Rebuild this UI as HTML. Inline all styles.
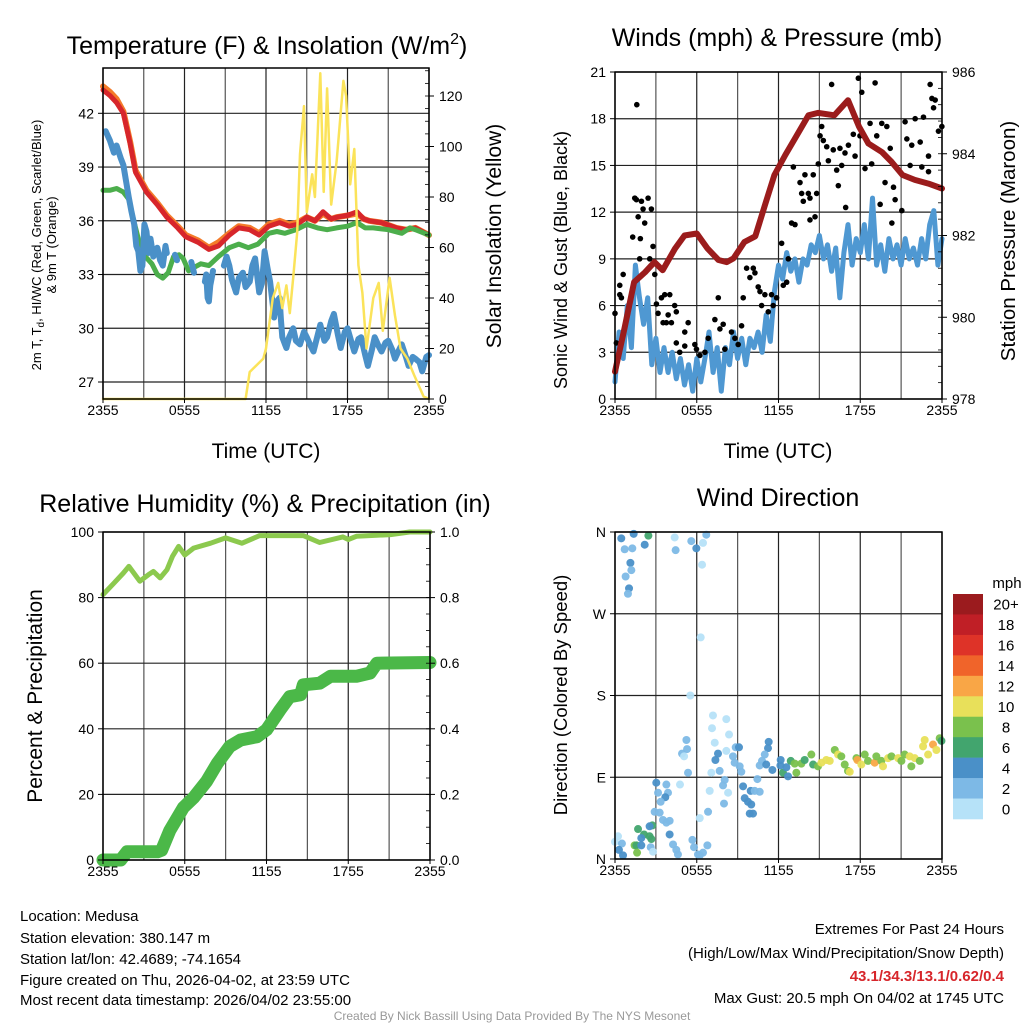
<!DOCTYPE html>
<html><head><meta charset="utf-8">
<style>
html,body{margin:0;padding:0;background:#fff;}
svg{display:block;font-family:"Liberation Sans",Arial,sans-serif;}
</style></head>
<body>
<svg id="s" width="1024" height="1024" viewBox="0 0 1024 1024" xmlns="http://www.w3.org/2000/svg">
<rect width="1024" height="1024" fill="#fff"/>
<g id="grid"></g>
<g id="marks"></g>
<g id="axes"></g>
<!-- titles -->
<text x="267" y="54" font-size="25" text-anchor="middle">Temperature (F) &amp; Insolation (W/m<tspan font-size="16" dy="-10">2</tspan><tspan dy="10">)</tspan></text>
<text x="777" y="46" font-size="25" text-anchor="middle">Winds (mph) &amp; Pressure (mb)</text>
<text x="265" y="512" font-size="25" text-anchor="middle">Relative Humidity (%) &amp; Precipitation (in)</text>
<text x="778" y="506" font-size="25" text-anchor="middle">Wind Direction</text>
<!-- x axis titles -->
<text x="266" y="458" font-size="21" text-anchor="middle">Time (UTC)</text>
<text x="778" y="458" font-size="21" text-anchor="middle">Time (UTC)</text>
<!-- y axis titles -->
<text transform="translate(41,245) rotate(-90)" font-size="13" text-anchor="middle">2m T, T<tspan font-size="10" dy="3">d</tspan><tspan dy="-3">, HI/WC (Red, Green, Scarlet/Blue)</tspan></text>
<text transform="translate(56,245) rotate(-90)" font-size="13" text-anchor="middle">&amp; 9m T (Orange)</text>
<text transform="translate(501,236) rotate(-90)" font-size="21" text-anchor="middle">Solar Insolation (Yellow)</text>
<text transform="translate(567,260) rotate(-90)" font-size="18" text-anchor="middle">Sonic Wind &amp; Gust (Blue, Black)</text>
<text transform="translate(1015,241) rotate(-90)" font-size="20.5" text-anchor="middle">Station Pressure (Maroon)</text>
<text transform="translate(42,696) rotate(-90)" font-size="21" text-anchor="middle">Percent &amp; Precipitation</text>
<text transform="translate(567,695) rotate(-90)" font-size="18.5" text-anchor="middle">Direction (Colored By Speed)</text>
<!-- colorbar -->
<g id="cbar"></g>
<text x="1007" y="588" font-size="15" text-anchor="middle">mph</text>
<!-- footer -->
<g font-size="15">
<text x="20" y="921">Location: Medusa</text>
<text x="20" y="943">Station elevation: 380.147 m</text>
<text x="20" y="964">Station lat/lon: 42.4689; -74.1654</text>
<text x="20" y="985">Figure created on Thu, 2026-04-02, at 23:59 UTC</text>
<text x="20" y="1005">Most recent data timestamp: 2026/04/02 23:55:00</text>
</g>
<g font-size="15" text-anchor="end">
<text x="1004" y="934">Extremes For Past 24 Hours</text>
<text x="1004" y="958">(High/Low/Max Wind/Precipitation/Snow Depth)</text>
<text x="1004" y="981" fill="#d7262b" font-weight="bold">43.1/34.3/13.1/0.62/0.4</text>
<text x="1004" y="1003">Max Gust: 20.5 mph On 04/02 at 1745 UTC</text>
</g>
<text x="512" y="1020" font-size="12" fill="#999" text-anchor="middle">Created By Nick Bassill Using Data Provided By The NYS Mesonet</text>
</svg>
<script>
// ---------- data ----------
const xTickHours = [0, 6, 12, 18, 24];
const xTickLabels = ["2355", "0555", "1155", "1755", "2355"];

const tempTicks = [27, 30, 33, 36, 39, 42];
const solarTicks = [0, 20, 40, 60, 80, 100, 120];
const windTicks = [0, 3, 6, 9, 12, 15, 18, 21];
const pressTicks = [978, 980, 982, 984, 986];
const pctTicks = [0, 20, 40, 60, 80, 100];
const precipTicks = ["0.0", "0.2", "0.4", "0.6", "0.8", "1.0"];
const dirTicks = [0, 90, 180, 270, 360];
const dirLabels = ["N", "E", "S", "W", "N"];
const speedBins = ["0", "2", "4", "6", "8", "10", "12", "14", "16", "18", "20+"];
const speedColors = ["#b6e2f8", "#7db9e6", "#4a90c8", "#42a56e", "#7ac14d", "#e8e05a", "#f9a646", "#f0642a", "#de3328", "#c01f26", "#9b1b1e"];

const tempH = [0, 0.5, 1, 1.5, 2, 2.4, 3.2, 4, 4.7, 5.5, 6.1, 7, 7.8, 8.5, 9.3, 10, 10.8, 11.5, 12.2, 13, 13.7, 14.3, 15, 15.6, 16.2, 16.8, 17.2, 18, 18.7, 19.2, 19.6, 20.5, 21.6, 22.3, 23, 24];
const tempV = [43.3, 43.0, 42.6, 42.0, 40.3, 38.7, 37.6, 36.9, 36.2, 35.6, 35.1, 34.8, 34.4, 34.6, 35.2, 35.6, 35.5, 35.2, 35.7, 35.9, 35.7, 35.8, 36.2, 36.0, 36.5, 36.1, 36.2, 36.3, 36.5, 36.1, 36.0, 35.9, 35.6, 35.5, 35.6, 35.2];
const orangeV = [43.5, 43.2, 42.8, 42.1, 40.4, 38.8, 37.7, 37.0, 36.3, 35.7, 35.2, 34.9, 34.5, 34.8, 35.3, 35.7, 35.6, 35.3, 35.8, 36.0, 35.8, 35.9, 36.2, 36.0, 36.4, 36.1, 36.2, 36.3, 36.4, 36.1, 36.0, 35.9, 35.6, 35.5, 35.6, 35.2];
const dewH = [0, 0.5, 1, 1.5, 1.9, 2.2, 2.6, 3, 3.6, 4.0, 4.4, 4.8, 5.2, 5.6, 5.9, 6.3, 6.7, 7.2, 7.8, 8.5, 9.3, 10, 10.7, 11.4, 12.2, 12.8, 13.4, 14.2, 15, 15.8, 16.5, 17.2, 18, 18.7, 19.3, 19.9, 21, 22, 22.6, 23, 24];
const dewV = [37.7, 37.7, 37.8, 37.6, 37.2, 36.2, 35.0, 34.1, 33.6, 33.0, 32.8, 33.1, 34.0, 34.1, 33.9, 33.2, 33.4, 33.6, 33.5, 34.0, 34.5, 34.7, 34.5, 34.7, 35.3, 35.4, 35.3, 35.5, 35.8, 35.6, 35.5, 35.6, 35.7, 35.9, 35.6, 35.6, 35.5, 35.3, 35.6, 35.5, 35.2];
const wcH = [0.2, 0.5, 0.8, 1, 1.3, 1.5, 1.7, 1.9, 2.1, 2.3, 2.45, 2.6, 2.75, 2.9, 3.05, 3.2, 3.35, 3.5, 3.7, 4, 4.2, 4.4, 4.6, 4.7, 5.0, 5.3, 5.45, 5.6, 6.3, 6.5, 6.7, 6.9, 7.4, 7.5, 7.6, 7.7, 7.8, 7.9, 8, 8.1, 8.5, 8.9, 9.1, 9.3, 9.5, 9.8, 10, 10.3, 10.5, 10.8, 11, 11.2, 11.5, 11.7, 11.9, 12.1, 12.3, 12.5, 12.6, 12.8, 13, 13.1, 13.2, 13.4, 13.5, 13.7, 14, 14.2, 14.5, 14.8, 15, 15.3, 15.5, 15.8, 16, 16.3, 16.5, 16.8, 17, 17.3, 17.5, 17.8, 18, 18.3, 18.5, 18.8, 19, 19.3, 19.5, 19.8, 20, 20.3, 20.5, 20.8, 21, 21.3, 21.5, 21.8, 22, 22.3, 22.5, 22.8, 23, 23.3, 23.5, 23.8, 24];
const wcV = [41.0, 40.5, 39.8, 40.2, 39.5, 39.1, 38.2, 37.3, 36.5, 35.8, 34.6, 34.3, 33.2, 33.5, 35.8, 35.4, 34.2, 35.0, 34.0, 34.5, 33.8, 33.5, 34.6, 34.2, null, 34.1, 33.8, null, null, 33.7, 33.1, null, null, 32.6, 33.0, 31.7, 31.5, 32.4, 32.8, 33.2, null, 33.5, 34.0, 33.5, 32.7, 32.0, 32.8, 33.1, 32.3, 32.6, 33.5, 33.9, 32.0, 32.5, 34.3, 33.4, 32.6, 31.3, 30.6, 31.5, 31.7, 30.5, 29.5, 29.1, 28.9, 29.5, 30.0, 29.3, 29.1, 29.8, 29.5, 29.0, 28.7, 29.6, 30.2, 29.3, 29.5, 30.4, 30.8, 29.6, 28.9, 29.8, 30.0, 29.2, 28.7, 29.4, 29.5, 28.5, 27.9, 28.8, 29.5, 29.0, 28.7, 29.2, 29.3, 28.8, 28.3, 28.8, 29.1, 28.4, 27.9, 28.4, 28.3, 28.1, 27.6, 28.4, 28.5];
const solarH = [0, 10.5, 10.8, 11.8, 12.0, 12.5, 12.9, 13.2, 13.5, 13.75, 14.0, 14.3, 14.5, 14.8, 15.0, 15.4, 15.6, 16.0, 16.25, 16.5, 16.8, 17.2, 17.7, 17.9, 18.2, 18.5, 18.8, 19.1, 19.4, 19.9, 20.3, 20.6, 21.1, 21.5, 21.9, 22.4, 22.9, 23.6, 24];
const solarV = [0, 0, 10.7, 16, 20, 40, 46, 36, 45, 34, 48, 66, 97, 116, 74, 89, 80, 129, 82, 123, 77, 94, 126, 120, 85, 99, 53, 42, 20, 40, 46, 27, 48, 33, 20, 16, 9.5, 1, 0];

const pressH = [0, 0.7, 1.4, 2.2, 2.9, 3.5, 4.4, 5.1, 6.0, 6.8, 7.6, 8.2, 8.7, 9.5, 10.3, 11.0, 11.7, 12.5, 13.2, 14.2, 14.9, 16.1, 17.1, 17.9, 18.6, 19.6, 20.3, 21.1, 22.0, 23.0, 24];
const pressV = [978.67, 979.73, 980.86, 981.1, 981.35, 981.15, 981.68, 982.0, 982.05, 981.68, 981.4, 981.35, 981.44, 981.84, 981.98, 982.74, 983.48, 983.97, 984.37, 984.94, 985.0, 984.94, 985.31, 984.67, 984.25, 984.04, 983.8, 983.48, 983.36, 983.27, 983.15];
const windH = [0, 0.3, 0.6, 0.9, 1.2, 1.5, 1.8, 2.1, 2.4, 2.7, 3, 3.3, 3.6, 3.9, 4.2, 4.5, 4.8, 5.1, 5.4, 5.7, 6.0, 6.3, 6.6, 6.9, 7.2, 7.5, 7.8, 8.1, 8.4, 8.7, 9.0, 9.3, 9.6, 9.9, 10.2, 10.5, 10.8, 11.1, 11.4, 11.7, 12, 12.3, 12.6, 12.9, 13.2, 13.5, 13.8, 14.1, 14.4, 14.7, 15, 15.3, 15.6, 15.9, 16.2, 16.5, 16.8, 17.1, 17.4, 17.7, 18, 18.3, 18.6, 18.9, 19.2, 19.5, 19.8, 20.1, 20.4, 20.7, 21, 21.3, 21.6, 21.9, 22.2, 22.5, 22.8, 23.1, 23.4, 23.7, 24];
const windV = [1.1, 4.3, 2.6, 6.0, 3.3, 8.6, 6.5, 4.8, 6.5, 2.2, 3.9, 1.7, 3.3, 1.7, 3.0, 1.3, 2.6, 0.9, 2.2, 0.5, 2.6, 1.1, 2.6, 4.3, 1.7, 3.3, 0.5, 3.3, 2.2, 4.3, 2.6, 3.9, 2.2, 3.9, 3.3, 4.3, 3.0, 5.4, 3.7, 6.9, 8.6, 7.7, 9.4, 8.2, 9.0, 7.5, 9.0, 8.6, 9.9, 9.4, 10.5, 9.0, 9.9, 8.2, 9.7, 6.5, 9.4, 11.2, 8.6, 10.3, 9.4, 11.2, 9.0, 12.9, 8.6, 9.9, 8.2, 10.3, 9.0, 9.9, 8.6, 10.3, 9.0, 9.7, 8.6, 10.3, 9.0, 11.2, 12.1, 8.6, 10.3];
const gustH = [0, 0.1, 0.35, 0.6, 0.35, 0.47, 1.6, 1.3, 1.45, 1.57, 1.94, 2.06, 1.7, 2.18, 2.43, 2.67, 1.86, 1.81, 2.55, 2.79, 2.92, 3.04, 3.16, 3.41, 3.65, 4.02, 3.9, 4.38, 4.5, 3.53, 4.14, 3.77, 4.5, 5.12, 5.37, 5.12, 4.75, 5.86, 5.98, 6.23, 6.6, 6.84, 7.33, 7.58, 7.7, 7.94, 8.06, 8.55, 8.8, 9.04, 9.29, 9.41, 9.66, 9.9, 10.15, 10.27, 10.51, 10.64, 10.76, 11.0, 11.25, 11.49, 11.61, 11.86, 12.23, 12.35, 12.6, 12.72, 12.96, 13.21, 13.09, 13.58, 13.7, 13.82, 13.94, 14.19, 14.31, 14.55, 14.68, 14.31, 14.8, 14.92, 15.05, 15.17, 15.29, 15.54, 15.66, 15.9, 16.02, 16.27, 16.39, 16.51, 16.88, 16.93, 16.64, 17.13, 17.49, 17.62, 17.86, 18.11, 17.98, 18.35, 18.72, 18.84, 19.09, 19.21, 19.46, 19.58, 19.82, 19.95, 20.2, 20.32, 20.44, 20.56, 21.05, 21.29, 21.42, 21.66, 21.78, 22.03, 22.4, 22.52, 22.64, 23.01, 23.13, 23.38, 23.5, 23.74, 23.99, 23.01, 23.26];
const gustV = [5.5, 3.6, 7.3, 8.0, 6.7, 6.5, 18.9, 10.4, 12.9, 12.8, 12.7, 12.2, 11.7, 11.3, 12.9, 12.2, 10.3, 9.0, 9.0, 9.8, 8.0, 6.1, 5.5, 6.5, 6.7, 6.7, 5.4, 6.0, 5.6, 4.9, 4.9, 4.9, 3.6, 4.3, 4.9, 3.4, 3.0, 3.5, 3.2, 2.8, 3.0, 3.9, 5.1, 6.5, 4.5, 4.8, 3.2, 4.3, 3.9, 3.5, 4.7, 6.5, 8.4, 7.8, 8.4, 8.1, 7.2, 6.9, 6.0, 6.7, 5.6, 6.7, 6.0, 6.5, 10.0, 7.3, 7.5, 9.0, 11.3, 11.2, 14.9, 13.9, 13.2, 12.7, 14.4, 13.2, 12.9, 14.4, 11.7, 11.5, 13.2, 15.1, 16.9, 17.5, 16.6, 16.2, 15.3, 20.2, 16.0, 14.7, 13.7, 16.1, 15.8, 12.3, 15.0, 16.3, 17.0, 15.6, 20.6, 19.7, 16.9, 14.8, 17.7, 15.1, 20.3, 16.9, 12.5, 17.7, 13.9, 17.5, 16.1, 11.3, 13.6, 12.8, 12.1, 17.8, 16.7, 15.0, 16.3, 18.0, 16.5, 14.9, 18.1, 15.6, 20.2, 18.7, 19.2, 17.2, 17.5, 14.6, 19.3, 16.3, 16.5];

const rhH = [0, 0.8, 1.5, 1.9, 2.7, 3.35, 3.7, 4.2, 4.7, 5.1, 5.55, 6.0, 6.65, 7.9, 9.0, 10.2, 11.5, 14.7, 15.9, 17.6, 18.0, 18.6, 21.1, 22.5, 24];
const rhV = [80.9, 84.4, 87.5, 89.5, 85, 87, 88, 86, 88.5, 92.6, 95.6, 93, 95.1, 96.6, 98.2, 96.6, 98.9, 98.9, 96.8, 98.5, 97.7, 98.7, 99.2, 100, 100];
const precipH = [0, 1.3, 1.76, 4.0, 4.3, 4.9, 5.9, 6.65, 7.6, 8.4, 9.3, 10.1, 11.3, 12.0, 13.0, 13.7, 14.5, 14.7, 15.9, 16.7, 18.6, 19.6, 20.1, 24];
const precipV = [0, 0, 0.025, 0.025, 0.03, 0.09, 0.16, 0.19, 0.24, 0.295, 0.346, 0.366, 0.376, 0.397, 0.458, 0.498, 0.504, 0.534, 0.539, 0.56, 0.56, 0.57, 0.60, 0.602];

const dirH = [0.46, 1.37, 2.45, 2.18, 0.71, 1.27, 1.13, 1.2, 0.78, 1.03, 0.95, 4.38, 5.6, 4.45, 5.97, 6.46, 6.7, 6.39, 6.29, 5.53, 7.19, 8.17, 7.12, 8.37, 7.32, 5.24, 5.29, 4.92, 5.07, 5.36, 4.77, 7.56, 7.37, 8.17, 8.86, 9.1, 8.66, 8.78, 9.15, 9.27, 7.68, 7.07, 8.05, 7.93, 8.3, 6.95, 8.0, 6.83, 6.22, 9.4, 9.52, 9.76, 10.0, 9.89, 10.13, 9.96, 10.25, 10.45, 10.62, 11.28, 11.23, 10.99, 10.79, 10.62, 11.1, 11.55, 12.16, 12.14, 12.33, 12.7, 12.58, 12.9, 13.19, 13.31, 13.68, 13.92, 14.41, 14.54, 14.9, 15.15, 15.51, 15.76, 16.13, 16.37, 16.61, 16.86, 17.1, 17.23, 17.72, 17.79, 18.08, 18.33, 18.57, 19.06, 19.18, 19.55, 19.67, 20.04, 20.29, 20.78, 21.02, 21.26, 21.63, 21.75, 22.0, 22.37, 22.61, 22.73, 23.34, 23.59, 23.83, 23.96, 22.98, 3.03, 3.77, 3.16, 3.89, 3.69, 3.35, 2.91, 3.28, 3.52, 4.01, 3.77, 2.74, 2.54, 1.69, 2.13, 2.54, 1.93, 2.67, 4.01, 4.26, 4.5, 4.62, 5.68, 5.8, 6.09, 6.46, 6.78, 1.44, 1.57, 1.93, 1.62, 2.62, 2.79, 0, 0.22, 0.51, 0.29, 0.59, 6.22];
const dirV = [353, 358, 356, 346, 341, 342, 326, 318, 311, 298, 292, 354, 350, 340, 342, 348, 357, 324, 244, 180, 158, 154, 144, 137, 128, 131, 121, 116, 113, 95, 82, 116, 109, 119, 123, 123, 113, 106, 102, 96, 97, 95, 87, 81, 73, 75, 61, 52, 45, 80, 67, 63, 60, 50, 50, 75, 75, 88, 74, 129, 122, 115, 108, 103, 104, 98, 109, 103, 95, 91, 101, 108, 105, 95, 105, 109, 115, 104, 102, 106, 109, 108, 120, 115, 113, 104, 97, 96, 111, 109, 104, 115, 108, 106, 113, 108, 102, 111, 113, 111, 108, 115, 113, 102, 111, 108, 124, 131, 126, 120, 133, 130, 115, 84, 82, 73, 73, 68, 63, 52, 51, 43, 42, 40, 37, 36, 33, 27, 25, 23, 22, 27, 16, 10, 5, 21, 13, 5, 7, 15, 15, 15, 15, 7, 13, 8, 19, 25, 17, 10, 4, 4];
const dirSpeed = [5, 5, 7, 5, 3, 3, 5, 3, 3, 5, 3, 1, 3, 3, 5, 1, 3, 1, 1, 1, 1, 1, 1, 1, 1, 3, 3, 3, 1, 3, 1, 5, 5, 1, 3, 5, 3, 3, 3, 3, 3, 1, 3, 3, 1, 1, 3, 3, 1, 5, 5, 5, 5, 5, 5, 5, 3, 3, 3, 5, 5, 3, 3, 3, 5, 5, 5, 5, 7, 5, 5, 7, 9, 9, 9, 7, 9, 7, 9, 11, 11, 11, 9, 11, 9, 9, 9, 11, 9, 13, 11, 9, 9, 13, 9, 9, 11, 11, 9, 11, 9, 9, 11, 9, 11, 9, 11, 11, 13, 11, 9, 7, 11, 5, 3, 3, 3, 5, 3, 3, 3, 3, 3, 3, 7, 5, 7, 7, 7, 5, 7, 5, 3, 3, 3, 3, 3, 3, 3, 3, 9, 7, 5, 9, 3, 1, 1, 1, 3, 5, 5, 3];

// ---------- helpers ----------
const NS = "http://www.w3.org/2000/svg";
const gridG = document.getElementById("grid");
const marksG = document.getElementById("marks");
const axesG = document.getElementById("axes");
function mk(tag, parent, attrs) {
  const e = document.createElementNS(NS, tag);
  for (const k in attrs) e.setAttribute(k, attrs[k]);
  parent.appendChild(e);
  return e;
}
function linScale(d0, d1, r0, r1) { return v => r0 + (v - d0) * (r1 - r0) / (d1 - d0); }
function pathD(xs, ys, sx, sy) {
  let d = "", pen = false;
  for (let i = 0; i < xs.length; i++) {
    if (ys[i] === null) { pen = false; continue; }
    d += (pen ? "L" : "M") + sx(xs[i]).toFixed(1) + " " + sy(ys[i]).toFixed(1);
    pen = true;
  }
  return d;
}

const P = [
  { x0: 103, x1: 429, y0: 68, y1: 399 },
  { x0: 615, x1: 942, y0: 72, y1: 399 },
  { x0: 103, x1: 430, y0: 532, y1: 860 },
  { x0: 615, x1: 942, y0: 532, y1: 859 }
];
const sx = P.map(p => linScale(0, 24, p.x0, p.x1));
const yTemp = linScale(27, 42, 382, 113.3);
const ySolar = linScale(0, 120, 399, 96);
const yWind = linScale(0, 21, 399, 72);
const yPress = linScale(978, 986, 399, 72);
const yPct = linScale(0, 100, 860, 532);
const yPrecip = linScale(0, 1, 860, 532);
const yDir = linScale(0, 360, 859, 532);

// ---------- grids & axes ----------
P.forEach((p, i) => {
  for (let h = 0; h <= 24; h += 3) {
    const x = sx[i](h);
    const v = mk("line", gridG, { x1: x, x2: x, y1: p.y0, y2: p.y1, stroke: (h % 6 === 0) ? "#222" : "#555", "stroke-width": 1.2 });
    
    
  }
  const box = mk("rect", axesG, { x: p.x0, y: p.y0, width: p.x1 - p.x0, height: p.y1 - p.y0, fill: "none", stroke: "#000", "stroke-width": 1.5 });
  
  
  xTickHours.forEach((h, j) => {
    const x = sx[i](h);
    const t = mk("text", axesG, { x: x, y: p.y1 + 16, "font-size": 14, "text-anchor": "middle" });
    t.textContent = xTickLabels[j];
    
    
    const tk = mk("line", axesG, { x1: x, x2: x, y1: p.y1, y2: p.y1 + 4, stroke: "#000", "stroke-width": 1 });
    
    
  });
});
function hGrid(i, ticks, sy) {
  const p = P[i];
  ticks.forEach(v => {
    const y = sy(v);
    const l = mk("line", gridG, { x1: p.x0, x2: p.x1, y1: y, y2: y, stroke: "#222", "stroke-width": 1.2 });
    
    
  });
}
function leftTicks(i, ticks, sy, labels) {
  const p = P[i];
  ticks.forEach((v, j) => {
    const y = sy(v);
    const tk = mk("line", axesG, { x1: p.x0 - 5, x2: p.x0, y1: y, y2: y, stroke: "#000", "stroke-width": 1 });
    
    
    const t = mk("text", axesG, { x: p.x0 - 9, y: y + 5, "font-size": 14, "text-anchor": "end" });
    t.textContent = labels ? labels[j] : v;
    
    
  });
}
function rightTicks(i, ticks, sy, labels, minorStep, d0, d1) {
  const p = P[i];
  ticks.forEach((v, j) => {
    const y = sy(v);
    const tk = mk("line", axesG, { x1: p.x1, x2: p.x1 + 5, y1: y, y2: y, stroke: "#000", "stroke-width": 1 });
    
    
    const t = mk("text", axesG, { x: p.x1 + 10, y: y + 5, "font-size": 14, "text-anchor": "start" });
    t.textContent = labels ? labels[j] : v;
    
    
  });
  if (minorStep) {
    for (let v = d0; v <= d1 + 1e-9; v += minorStep) {
      const y = sy(v);
      if (y < p.y0 || y > p.y1) continue;
      const m = mk("line", axesG, { x1: p.x1 - 4, x2: p.x1, y1: y, y2: y, stroke: "#000", "stroke-width": 0.8 });
      
      
    }
  }
}
hGrid(0, tempTicks, yTemp);
leftTicks(0, tempTicks, yTemp);
rightTicks(0, solarTicks, ySolar, null, 5, 0, 130);
hGrid(1, windTicks, yWind);
leftTicks(1, windTicks, yWind);
rightTicks(1, pressTicks, yPress, null, 0.4, 978, 986);
hGrid(2, pctTicks, yPct);
leftTicks(2, pctTicks, yPct);
rightTicks(2, [0, 0.2, 0.4, 0.6, 0.8, 1.0], yPrecip, precipTicks, 0.05, 0, 1);
hGrid(3, dirTicks, yDir);
leftTicks(3, dirTicks, yDir, dirLabels);

function series(xs, ys, sxf, syf, color, w, name) {
  const el = mk("path", marksG, { d: pathD(xs, ys, sxf, syf), fill: "none", stroke: color, "stroke-width": w, "stroke-linejoin": "round", "stroke-linecap": "round" });
  
  
  return el;
}
// panel 1
series(tempH, orangeV, sx[0], yTemp, "#f47b2a", 6, "nine-meter-temperature-line");
series(tempH, tempV, sx[0], yTemp, "#d7262b", 5, "temperature-line");
series(dewH, dewV, sx[0], yTemp, "#4cae4c", 5, "dewpoint-line");
series(wcH, wcV, sx[0], yTemp, "#4a90c8", 6, "wind-chill-line");
series(solarH, solarV, sx[0], ySolar, "#fbe35a", 2.5, "solar-insolation-line");

// panel 2
series(windH, windV, sx[1], yWind, "#4f98d2", 5, "sonic-wind-line");
gustH.forEach((h, i) => {
  const c = mk("circle", marksG, { cx: sx[1](h), cy: yWind(gustV[i]), r: 2.8, fill: "#000" });
  
  
});
series(pressH, pressV, sx[1], yPress, "#9b1c1c", 6, "pressure-line");

// panel 3
series(rhH, rhV, sx[2], yPct, "#8cc94e", 5, "relative-humidity-line");
series(precipH, precipV, sx[2], yPrecip, "#4bb848", 13, "precipitation-line");

// panel 4
dirH.forEach((h, i) => {
  const s = dirSpeed[i];
  const ci = Math.min(10, Math.floor(s / 2));
  const c = mk("circle", marksG, { cx: sx[3](h), cy: yDir(dirV[i]), r: 4, fill: speedColors[ci], "fill-opacity": 0.95 });
  
  
});

// colorbar
const cb = document.getElementById("cbar");
const cbTop = 594, cbH = 225 / 11;
speedColors.forEach((col, i) => {
  const idx = 10 - i;
  const r = mk("rect", cb, { x: 953, y: cbTop + i * cbH, width: 30, height: cbH + 0.3, fill: speedColors[idx] });
  
  
  const t = mk("text", cb, { x: 1006, y: cbTop + i * cbH + cbH / 2 + 5.5, "font-size": 15, "text-anchor": "middle" });
  t.textContent = speedBins[idx];
  
  
});
</script>
</body></html>
